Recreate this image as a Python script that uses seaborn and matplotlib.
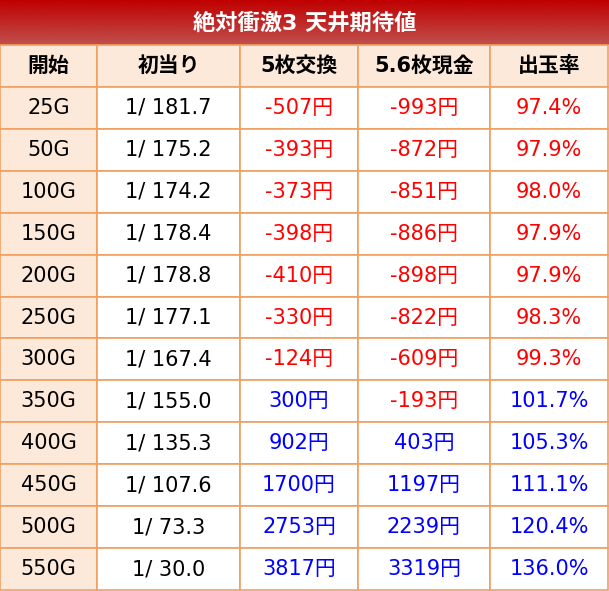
import numpy as np
import matplotlib
matplotlib.use("Agg")
import matplotlib.pyplot as plt
import seaborn as sns
from matplotlib.patches import Rectangle

sns.set_theme(style="white")
plt.rcParams['font.family'] = ['DejaVu Sans', 'Noto Sans CJK JP']

title = "絶対衝激3 天井期待値"
headers = ["開始", "初当り", "5枚交換", "5.6枚現金", "出玉率"]
starts = ["25G", "50G", "100G", "150G", "200G", "250G", "300G", "350G", "400G", "450G", "500G", "550G"]
first_hit = ["1/ 181.7", "1/ 175.2", "1/ 174.2", "1/ 178.4", "1/ 178.8", "1/ 177.1",
             "1/ 167.4", "1/ 155.0", "1/ 135.3", "1/ 107.6", "1/ 73.3", "1/ 30.0"]
exch5 = [-507, -393, -373, -398, -410, -330, -124, 300, 902, 1700, 2753, 3817]
cash56 = [-993, -872, -851, -886, -898, -822, -609, -193, 403, 1197, 2239, 3319]
payout = [97.4, 97.9, 98.0, 97.9, 97.9, 98.3, 99.3, 101.7, 105.3, 111.1, 120.4, 136.0]

W, H = 609, 591
fig = plt.figure(figsize=(W/100, H/100), dpi=100)
ax = fig.add_axes([0, 0, 1, 1])
ax.set_xlim(0, W); ax.set_ylim(H, 0); ax.axis('off')

cols = [0, 97, 240, 358, 490, 608]
title_h = 45
row_h = (H - 1 - title_h) / 13
border = "#F0A060"
peach = "#FDE9D9"

grad = np.linspace(0, 1, 100).reshape(-1, 1)
cmap = matplotlib.colors.LinearSegmentedColormap.from_list("g", ["#C00000", "#C0504D"])
ax.imshow(grad, extent=[0, W, title_h, 0], cmap=cmap, aspect='auto', zorder=0)
ax.text(W/2, title_h/2, title, color="white", fontsize=16, fontweight='bold', ha='center', va='center')

def red_blue(v):
    return "#FF0000" if v < 0 else "#0000FF"

for r in range(13):
    y0 = title_h + r*row_h
    for c in range(5):
        x0 = cols[c]; w = cols[c+1]-cols[c]
        fc = peach if (r == 0 or c == 0) else "white"
        ax.add_patch(Rectangle((x0, y0), w, row_h, facecolor=fc, edgecolor=border, lw=1.2))
        cx = x0 + w/2; cy = y0 + row_h/2
        if r == 0:
            ax.text(cx, cy, headers[c], fontsize=15, fontweight='bold', ha='center', va='center', color='black')
        else:
            i = r-1
            if c == 0:
                t, col = starts[i], 'black'
            elif c == 1:
                t, col = first_hit[i], 'black'
            elif c == 2:
                t, col = f"{exch5[i]}円", red_blue(exch5[i])
            elif c == 3:
                t, col = f"{cash56[i]}円", red_blue(cash56[i])
            else:
                t, col = f"{payout[i]:.1f}%", "#FF0000" if payout[i] < 100 else "#0000FF"
            ax.text(cx, cy, t, fontsize=15, ha='center', va='center', color=col)

fig.savefig("out.png", dpi=100)
